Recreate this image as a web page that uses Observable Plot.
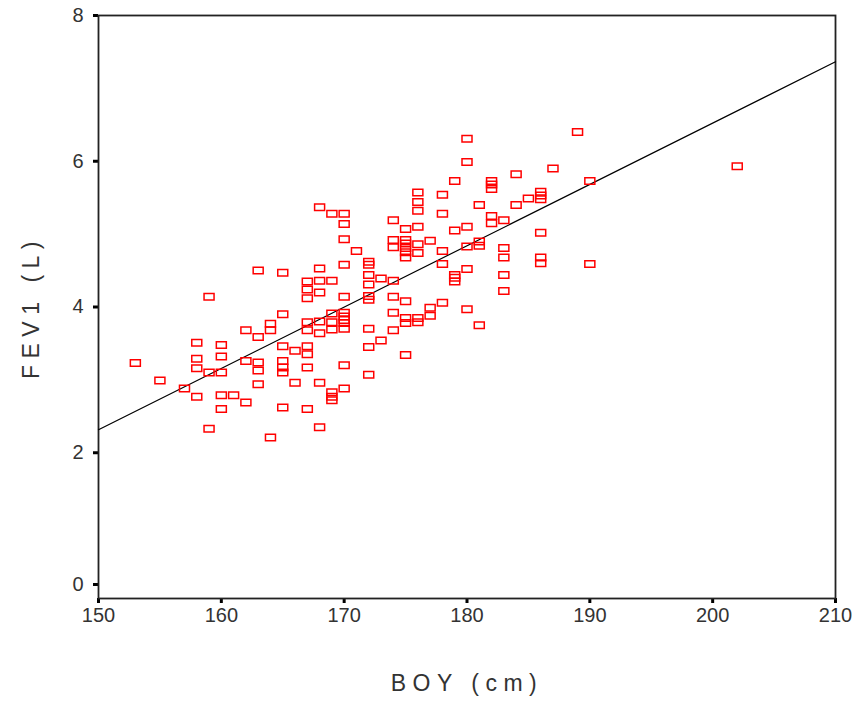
<!DOCTYPE html>
<html>
<head>
<meta charset="utf-8">
<script src="https://cdn.jsdelivr.net/npm/d3@7"></script>
<script src="https://cdn.jsdelivr.net/npm/@observablehq/plot@0.6"></script>
<style>
  html, body { margin: 0; padding: 0; background: #fff; }
  #chart { width: 856px; height: 708px; }
</style>
</head>
<body>
<div id="chart"></div>
<script>
// Height (cm) and FEV1 (L) for each subject
const heights = [
  153, 155, 157,
  158, 158, 158, 158,
  159, 159, 159,
  160, 160, 160, 160, 160,
  161,
  162, 162, 162,
  163, 163, 163, 163, 163,
  164, 164, 164,
  165, 165, 165, 165, 165, 165, 165,
  166, 166,
  167, 167, 167, 167, 167, 167, 167, 167, 167,
  168, 168, 168, 168, 168, 168, 168, 168,
  169, 169, 169, 169, 169, 169, 169, 169,
  170, 170, 170, 170, 170, 170, 170, 170, 170, 170, 170, 170,
  171,
  172, 172, 172, 172, 172, 172, 172, 172, 172,
  173, 173,
  174, 174, 174, 174, 174, 174, 174,
  175, 175, 175, 175, 175, 175, 175, 175, 175, 175,
  176, 176, 176, 176, 176, 176, 176, 176,
  177, 177, 177,
  178, 178, 178, 178, 178,
  179, 179, 179, 179, 179,
  180, 180, 180, 180, 180, 180,
  181, 181, 181, 181,
  182, 182, 182, 182, 182,
  183, 183, 183, 183, 183,
  184, 184,
  185,
  186, 186, 186, 186, 186, 186,
  187,
  189,
  190, 190,
  202
];
const fev1 = [
  3.23, 2.99, 2.88,
  3.51, 3.29, 3.16, 2.77,
  4.14, 3.10, 2.33,
  3.48, 3.32, 3.10, 2.79, 2.60,
  2.79,
  3.68, 3.26, 2.69,
  4.50, 3.59, 3.24, 3.13, 2.94,
  3.77, 3.68, 2.21,
  4.47, 3.90, 3.46, 3.26, 3.17, 3.10, 2.62,
  3.40, 2.96,
  4.35, 4.24, 4.12, 3.79, 3.68, 3.46, 3.35, 3.17, 2.60,
  5.37, 4.53, 4.36, 4.20, 3.80, 3.64, 2.96, 2.35,
  5.28, 4.36, 3.91, 3.79, 3.69, 2.83, 2.77, 2.72,
  5.28, 5.14, 4.93, 4.58, 4.14, 3.92, 3.87, 3.82, 3.78, 3.70, 3.20, 2.88,
  4.77,
  4.62, 4.58, 4.44, 4.31, 4.15, 4.10, 3.70, 3.45, 3.07,
  4.39, 3.54,
  5.19, 4.92, 4.82, 4.36, 4.14, 3.92, 3.68,
  5.07, 4.92, 4.87, 4.81, 4.75, 4.68, 4.08, 3.85, 3.78, 3.34,
  5.57, 5.44, 5.32, 5.10, 4.86, 4.74, 3.85, 3.79,
  4.91, 3.99, 3.88,
  5.54, 5.28, 4.77, 4.59, 4.06,
  5.73, 5.05, 4.44, 4.40, 4.35,
  6.31, 5.99, 5.10, 4.83, 4.52, 3.97,
  5.40, 4.90, 4.84, 3.75,
  5.73, 5.68, 5.62, 5.25, 5.15,
  5.19, 4.81, 4.68, 4.44, 4.22,
  5.82, 5.40,
  5.49,
  5.58, 5.53, 5.48, 5.02, 4.68, 4.60,
  5.90,
  6.40,
  5.73, 4.59,
  5.93
];
const xTicks = [150, 160, 170, 180, 190, 200, 210];
const yTicks = [2, 4, 6, 8];
const yTickZero = [0];
const xTitle = "BOY (cm)";
const yTitle = "FEV1 (L)";

const data = heights.map((h, i) => ({boy: h, fev1: fev1[i]}));

// least-squares fit line over the full x axis extent
const mx = d3.mean(heights), my = d3.mean(fev1);
const slope = d3.sum(heights, (h, i) => (h - mx) * (fev1[i] - my)) / d3.sum(heights, h => (h - mx) ** 2);
const intercept = my - slope * mx;
const fitLine = [xTicks[0], xTicks[xTicks.length - 1]].map(x => ({boy: x, fev1: intercept + slope * x}));

// open rectangle marker like SPSS
const rectSymbol = {
  draw(context) {
    const w = 10, h = 6.5;
    context.rect(-w / 2, -h / 2, w, h);
  }
};

const font = "'Liberation Sans', Arial, sans-serif";

const chart = Plot.plot({
  width: 856,
  height: 708,
  marginLeft: 98,
  marginRight: 21,
  marginTop: 15,
  marginBottom: 110,
  style: {fontFamily: font, fontSize: "19px", color: "#333", background: "#fff"},
  x: {domain: [150, 210]},
  y: {domain: [0, 8]},
  marks: [
    Plot.axisX({ticks: xTicks, tickSize: 5, tickPadding: 4, strokeWidth: 3, stroke: "#000", fill: "#333", label: null}),
    Plot.axisY({ticks: yTicks, tickSize: 5, tickPadding: 10, strokeWidth: 3, stroke: "#000", fill: "#333", label: null}),
    Plot.axisY({ticks: yTickZero, tickSize: 5, tickPadding: 10, strokeWidth: 3, stroke: "#000", fill: "#333", label: null, dy: -14}),
    Plot.frame({stroke: "#222", strokeWidth: 1.8}),
    Plot.line(fitLine, {x: "boy", y: "fev1", stroke: "#000", strokeWidth: 1.2}),
    Plot.dot(data, {x: "boy", y: "fev1", symbol: rectSymbol, stroke: "#ff0000", strokeWidth: 1.5, fill: "none"}),
    Plot.text([xTitle], {frameAnchor: "bottom", textAnchor: "middle", text: d => d, dy: 92, fontSize: 23, fill: "#333"}),
    Plot.text([yTitle], {frameAnchor: "left", textAnchor: "middle", text: d => d, dx: -67, rotate: -90, fontSize: 23, fill: "#333"})
  ]
});

document.getElementById("chart").appendChild(chart);
chart.querySelectorAll("text").forEach(t => {
  if (t.textContent === xTitle || t.textContent === yTitle) {
    t.style.letterSpacing = "6.5px";
  } else {
    t.setAttribute("font-size", "20");
    t.style.fontSize = "20px";
  }
});
</script>
</body>
</html>
